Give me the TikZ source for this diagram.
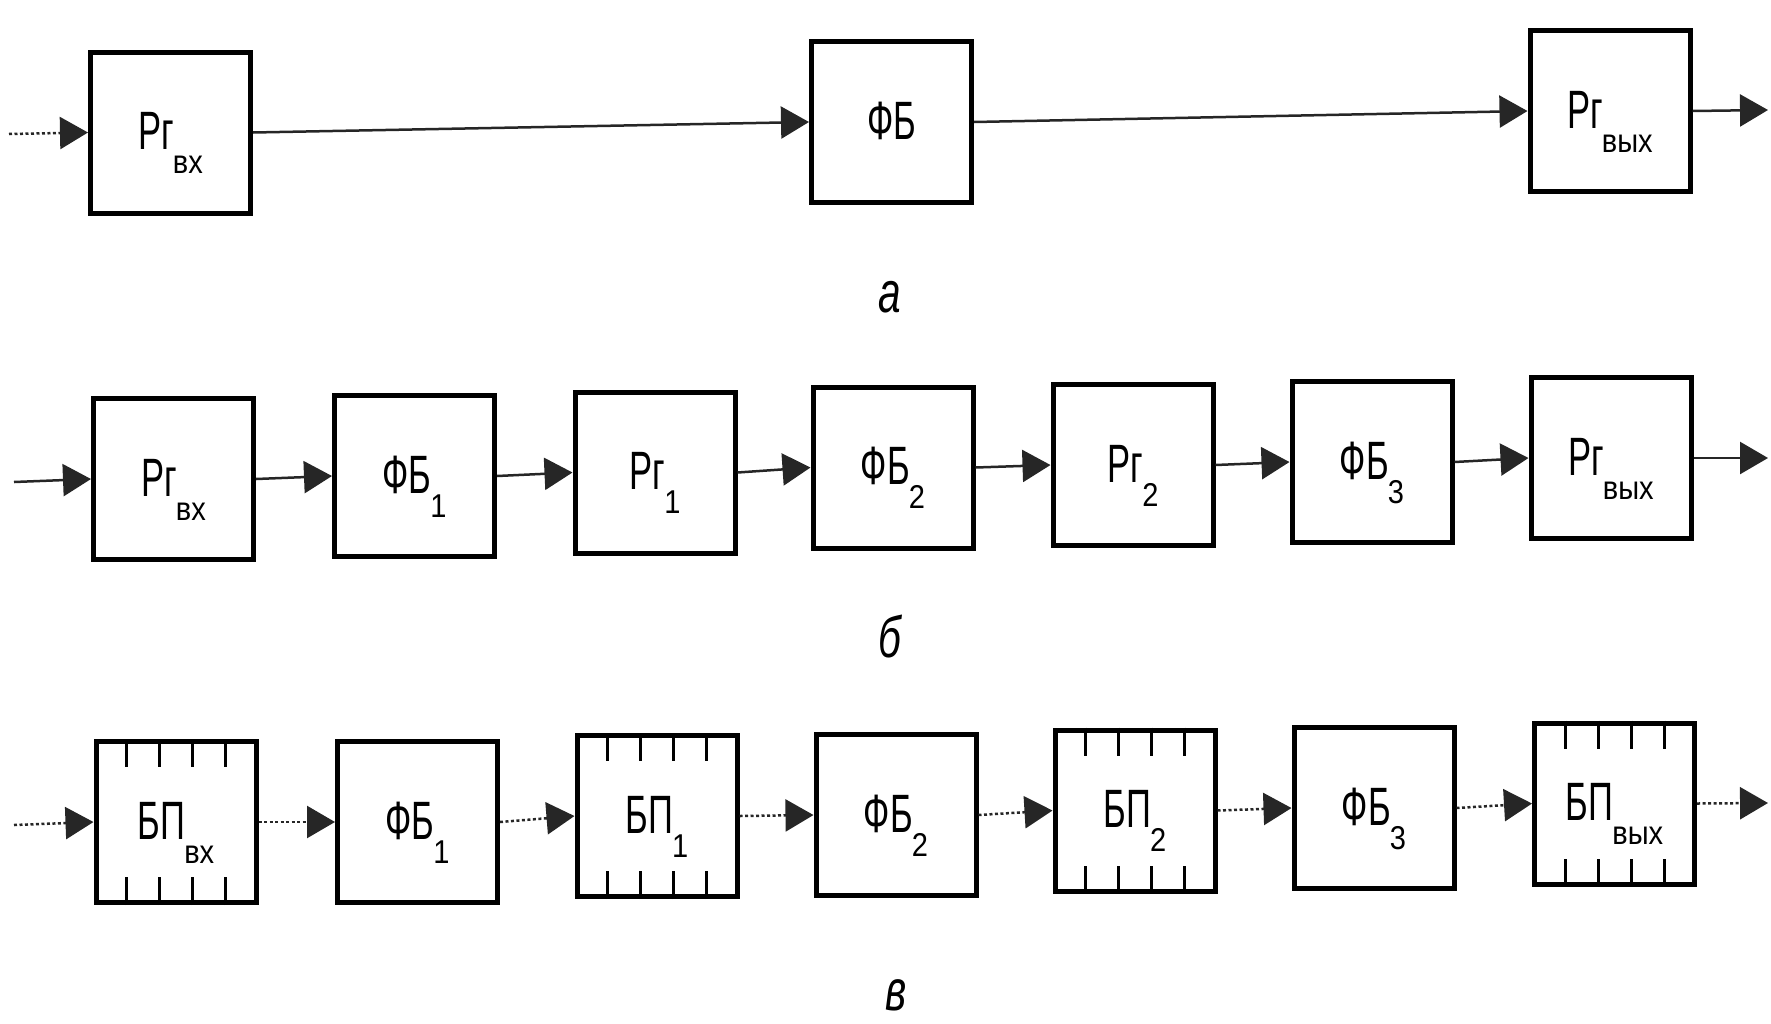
\documentclass[tikz,border=0pt]{standalone}
\usepackage{fontspec}
\setmainfont{Liberation Sans}
\usepackage{graphicx}
\usetikzlibrary{arrows.meta,calc}
\newcommand\blkt[2]{\scalebox{0.64}[1]{#1}\kern-1pt\raisebox{-24pt}{\fontsize{33}{33}\selectfont\scalebox{0.88}[1]{#2}}}
\newcommand\blko[1]{\scalebox{0.64}[1]{#1}}
\begin{document}
\begin{tikzpicture}[x=1pt,y=-1pt,
  blk/.style={draw=black, line width=5pt, minimum width=160pt, minimum height=161pt,
    inner sep=0pt, text height=42pt, text depth=8pt, font=\fontsize{54}{54}\selectfont},
  conn/.style={line width=2.5pt, draw=black!85, -{Triangle[length=28pt,width=32pt]}},
  dots/.style={dash pattern=on 3pt off 2.5pt},
  tickmark/.style={line width=3pt, draw=black},
  caplbl/.style={anchor=base, font=\fontsize{58}{58}\selectfont\itshape}]
\useasboundingbox (0,0) rectangle (1771,1023);
% row a
\node[blk] (a1) at (170.5,132.5) {\blkt{Рг}{вх}};
\node[blk] (a2) at (891.5,122) {\blko{ФБ}};
\node[blk] (a3) at (1610,111) {\blkt{Рг}{вых}};
\coordinate (ain) at (9,134);
\coordinate (aout) at (1768,110);
\draw[conn,dots] (ain) -- (a1.west);
\draw[conn] (a1.east) -- (a2.west);
\draw[conn] (a2.east) -- (a3.west);
\draw[conn] (a3.east) -- (aout);
\node[caplbl] (la) at (890,312) {\scalebox{0.7}[1]{а}};
% row b
\node[blk] (b1) at (173.5,479) {\blkt{Рг}{вх}};
\node[blk] (b2) at (414.5,476) {\blkt{ФБ}{1}};
\node[blk] (b3) at (655,472.5) {\blkt{Рг}{1}};
\node[blk] (b4) at (893,467.5) {\blkt{ФБ}{2}};
\node[blk] (b5) at (1133,465) {\blkt{Рг}{2}};
\node[blk] (b6) at (1372,462) {\blkt{ФБ}{3}};
\node[blk] (b7) at (1611,458) {\blkt{Рг}{вых}};
\coordinate (bin) at (14,482);
\coordinate (bout) at (1768,458);
\draw[conn] (bin) -- (b1.west);
\foreach \p/\q in {b1/b2,b2/b3,b3/b4,b4/b5,b5/b6,b6/b7}{\draw[conn] (\p.east) -- (\q.west);}
\draw[conn] (b7.east) -- (bout);
\node[caplbl] (lb) at (890,657) {\scalebox{0.7}[1]{б}};
% row c
\node[blk] (c1) at (176,822) {\blkt{БП}{вх}};
\node[blk] (c2) at (417.5,822) {\blkt{ФБ}{1}};
\node[blk] (c3) at (657,816) {\blkt{БП}{1}};
\node[blk] (c4) at (896,815) {\blkt{ФБ}{2}};
\node[blk] (c5) at (1135,810.5) {\blkt{БП}{2}};
\node[blk] (c6) at (1374,808) {\blkt{ФБ}{3}};
\node[blk] (c7) at (1614.5,803.5) {\blkt{БП}{вых}};
\coordinate (cin) at (14,825);
\coordinate (cout) at (1768,803);
\draw[conn,dots] (cin) -- (c1.west);
\foreach \p/\q in {c1/c2,c2/c3,c3/c4,c4/c5,c5/c6,c6/c7}{\draw[conn,dots] (\p.east) -- (\q.west);}
\draw[conn,dots] (c7.east) -- (cout);
\foreach \n in {c1,c3,c5,c7}{
  \foreach \f in {0.2,0.4,0.6,0.8}{
    \draw[tickmark] ($(\n.north west)!\f!(\n.north east)$) -- ++(0,28);
    \draw[tickmark] ($(\n.south west)!\f!(\n.south east)$) -- ++(0,-28);
  }
}
\node[caplbl] (lc) at (896,1010) {\scalebox{0.7}[1]{в}};
\end{tikzpicture}
\end{document}
